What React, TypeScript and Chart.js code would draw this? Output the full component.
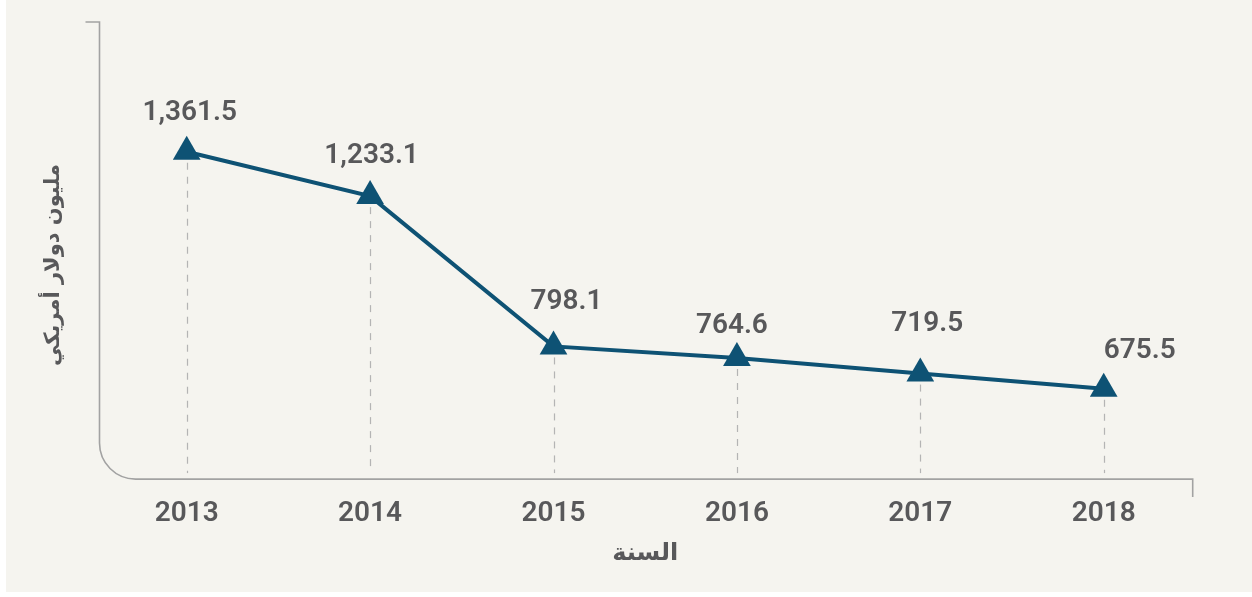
import React, { useEffect, useRef } from "react";
import { Chart, registerables } from "chart.js";

Chart.register(...registerables);

// ---- data ----
const years = ["2013", "2014", "2015", "2016", "2017", "2018"];
const spending = [1361.5, 1233.1, 798.1, 764.6, 719.5, 675.5];
const valueLabels = ["1,361.5", "1,233.1", "798.1", "764.6", "719.5", "675.5"];
const xAxisTitle = "السنة";
const yAxisTitle = "مليون دولار أمريكي";

// ---- styling ----
const BG = "#f5f4ef";
const LINE = "#0e5274";
const TEXT = "#58585a";
const AXIS = "#a2a2a2";
const DASH = "#b4b4b4";
const labelShift = [
  [3, -42],
  [1.5, -43],
  [13, -47.5],
  [-5, -35],
  [7, -53],
  [36, -40.5],
];

const decorPlugin = {
  id: "decor",
  beforeDatasetsDraw(chart: any) {
    const { ctx, chartArea } = chart;
    const xs = chart.scales.x;
    const ys = chart.scales.y;
    ctx.save();
    // custom axis frame with rounded corner
    const ax = chartArea.left - 87.2;
    const top = 22;
    const base = chartArea.bottom + 1;
    const r = 36;
    const endX = chartArea.right + 89;
    ctx.strokeStyle = AXIS;
    ctx.lineWidth = 1.6;
    ctx.beginPath();
    ctx.moveTo(ax - 14, top);
    ctx.lineTo(ax, top);
    ctx.lineTo(ax, base - r);
    ctx.arcTo(ax, base, ax + r, base, r);
    ctx.lineTo(endX, base);
    ctx.lineTo(endX, base + 18);
    ctx.stroke();
    // dashed drop lines
    ctx.strokeStyle = DASH;
    ctx.lineWidth = 1.2;
    ctx.setLineDash([7, 7]);
    spending.forEach((v, i) => {
      const x = Math.round(xs.getPixelForValue(i)) + 0.5;
      const y = ys.getPixelForValue(v) + 11;
      ctx.beginPath();
      ctx.moveTo(x, y);
      ctx.lineTo(x, base - 6);
      ctx.stroke();
    });
    ctx.restore();
  },
  afterDatasetsDraw(chart: any) {
    const { ctx } = chart;
    const xs = chart.scales.x;
    const ys = chart.scales.y;
    ctx.save();
    ctx.fillStyle = TEXT;
    ctx.font = "600 28px Roboto, 'DejaVu Sans', sans-serif";
    ctx.textAlign = "center";
    ctx.textBaseline = "alphabetic";
    spending.forEach((v, i) => {
      const x = xs.getPixelForValue(i) + labelShift[i][0];
      const y = ys.getPixelForValue(v) + labelShift[i][1] + 10;
      ctx.fillText(valueLabels[i], x, y);
    });
    // y axis title (rotated)
    ctx.translate(54, 265);
    ctx.rotate(-Math.PI / 2);
    ctx.font = "bold 21px 'DejaVu Sans', sans-serif";
    ctx.textBaseline = "middle";
    ctx.direction = "rtl";
    ctx.textAlign = "center";
    ctx.fillText(yAxisTitle, 0, 0);
    ctx.restore();
  },
};

export default function App() {
  const canvasRef = useRef<HTMLCanvasElement | null>(null);

  useEffect(() => {
    const canvas = canvasRef.current;
    if (!canvas) return;
    const chart = new Chart(canvas, {
      type: "line",
      data: {
        labels: years,
        datasets: [
          {
            data: spending,
            borderColor: LINE,
            backgroundColor: LINE,
            borderWidth: 4,
            pointStyle: "triangle",
            pointRadius: 16,
            pointHoverRadius: 16,
            pointBorderWidth: 0,
            pointBackgroundColor: LINE,
            tension: 0,
          },
        ],
      },
      options: {
        animation: false,
        responsive: false,
        maintainAspectRatio: false,
        events: [],
        layout: {
          padding: { left: 186.7, right: 148.3, top: 22, bottom: 0 },
        },
        plugins: {
          legend: { display: false },
          tooltip: { enabled: false },
        },
        scales: {
          x: {
            offset: false,
            grid: { display: false, drawTicks: false },
            border: { display: false },
            ticks: {
              color: TEXT,
              font: { family: "Roboto, 'DejaVu Sans', sans-serif", size: 28, weight: "600" },
              padding: 19.5,
              maxRotation: 0,
              autoSkip: false,
            },
            title: {
              display: true,
              text: xAxisTitle,
              color: TEXT,
              font: { family: "'DejaVu Sans', sans-serif", size: 24, weight: "bold" },
              padding: { top: -11.3, bottom: 28.8 },
            },
          },
          y: {
            display: false,
            min: 417,
            max: 1737,
          },
        },
      },
      plugins: [decorPlugin],
    });
    return () => chart.destroy();
  }, []);

  return (
    <div style={{ position: "fixed", left: 0, top: 0, width: 1252, height: 597, background: "#ffffff" }}>
      <div style={{ position: "absolute", left: 6, top: 0, width: 1246, height: 592, background: BG }} />
      <canvas
        ref={canvasRef}
        width={1252}
        height={597}
        style={{ position: "absolute", left: 0, top: 0, width: 1252, height: 597 }}
      />
    </div>
  );
}
